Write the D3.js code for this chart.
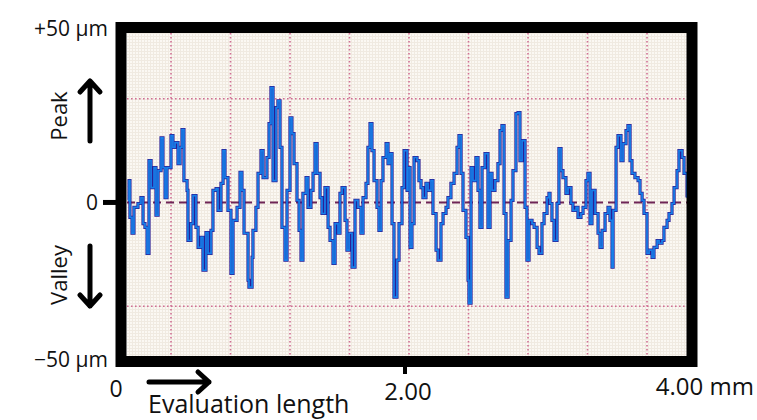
<!DOCTYPE html>
<html>
<head>
<meta charset="utf-8">
<script src="https://cdn.jsdelivr.net/npm/d3@7"></script>
<style>
  body { margin: 0; background: #fff; }
  svg { display: block; font-family: "Open Sans", sans-serif; }
</style>
</head>
<body>
<div id="chart"></div>
<script>
// profile: position along the surface (mm) and height (µm)
const positionsMm = [
  0.111, 0.118, 0.124, 0.138, 0.151, 0.178, 0.198, 0.212, 0.225, 0.239, 0.252, 0.266, 0.286, 0.299, 0.313, 0.333,
  0.346, 0.360, 0.373, 0.400, 0.413, 0.427, 0.447, 0.461, 0.474, 0.487, 0.508, 0.514, 0.534, 0.548, 0.568, 0.582,
  0.602, 0.615, 0.635, 0.649, 0.669, 0.682, 0.703, 0.716, 0.736, 0.750, 0.763, 0.783, 0.803, 0.817, 0.844, 0.864,
  0.877, 0.891, 0.918, 0.924, 0.945, 0.951, 0.971, 0.985, 1.005, 1.019, 1.045, 1.059,
  1.072, 1.086, 1.106, 1.119, 1.133, 1.146, 1.166, 1.180, 1.200, 1.213, 1.227, 1.247, 1.261, 1.274, 1.287, 1.308,
  1.321, 1.341, 1.355, 1.368, 1.382, 1.402, 1.415, 1.435, 1.456, 1.469, 1.489, 1.503, 1.523, 1.536, 1.550, 1.570,
  1.583, 1.597, 1.617, 1.637, 1.657, 1.677, 1.691, 1.711, 1.724, 1.738, 1.751, 1.765, 1.785, 1.798, 1.812, 1.825,
  1.846, 1.859, 1.872, 1.886, 1.899, 1.919, 1.933, 1.953, 1.967, 1.987,
  1.993, 2.007, 2.020, 2.034, 2.054, 2.067, 2.081, 2.094, 2.114, 2.128, 2.148, 2.161, 2.182, 2.195, 2.215, 2.229,
  2.249, 2.262, 2.282, 2.303, 2.323, 2.336, 2.350, 2.363, 2.383, 2.397, 2.403, 2.417, 2.430, 2.450, 2.464, 2.477,
  2.491, 2.511, 2.531, 2.545, 2.558, 2.578, 2.598, 2.612, 2.625, 2.639, 2.652, 2.666, 2.686, 2.699, 2.719, 2.733,
  2.746, 2.760, 2.780, 2.793, 2.807, 2.827, 2.841, 2.861, 2.874, 2.894, 2.908, 2.928,
  2.941, 2.948, 2.961, 2.975, 2.995, 3.008, 3.022, 3.035, 3.055, 3.069, 3.089, 3.102, 3.123, 3.136, 3.156, 3.170,
  3.190, 3.203, 3.217, 3.230, 3.251, 3.271, 3.284, 3.298, 3.318, 3.338, 3.351, 3.365, 3.372, 3.392, 3.405, 3.425,
  3.439, 3.459, 3.472, 3.486, 3.499, 3.519, 3.540, 3.553, 3.567, 3.580, 3.600, 3.614, 3.634, 3.647, 3.668, 3.681,
  3.701, 3.714, 3.735, 3.748, 3.768, 3.782, 3.802, 3.815, 3.836, 3.849, 3.869
];
const heightsUm = [
  0.6, 6.3, -4.3, -8.9, -1.4, -0.3, 1.4, -6.1, -7.2, -14.7, 12.1, 4.3, 10.1, -3.7, 9.2, 18.7,
  10.1, 1.4, 10.1, 19.3, 15.9, 17.3, 11.2, 15.9, 21.1, 6.3, 3.5, -11.0, -6.1, 2.0, -7.2, -13.0,
  -10.1, -19.6, -8.7, -14.7, -8.1, 3.5, 4.0, -2.3, 5.5, 15.0, 7.2, -2.3, -20.5, -5.2, -1.4, 8.7,
  3.5, -8.9, -22.5, -24.5, -15.9, -8.1, -1.4, 8.4, 15.0, 7.2, 13.0, 22.8,
  33.2, 6.3, 27.4, 29.4, 15.9, -7.2, -16.7, 3.5, 24.5, 19.9, 11.2, 0.6, -8.1, -16.7, 2.6, 7.2,
  -1.4, 3.5, 8.4, 17.0, 8.4, 1.4, -3.2, 4.3, -7.2, -11.0, -17.6, -6.1, -8.9, 2.6, 4.3, -5.2,
  -13.8, -8.9, -18.7, 0.6, -1.4, -8.9, 1.4, 5.5, 15.9, 22.8, 15.0, 6.3, -1.4, -8.1, 6.3, 13.0,
  17.0, 11.2, 14.1, -6.1, -27.4, -16.7, -6.1, 4.3, 15.0, 3.5,
  10.1, -13.0, -6.1, 13.0, 12.1, 6.3, 4.3, 1.4, 5.5, 3.5, 6.3, -3.2, -13.8, -16.7, -6.1, -3.2,
  -1.4, 1.4, 5.5, 8.4, 15.9, 19.3, 8.4, -2.3, -10.1, -22.5, -29.1, 10.1, 6.3, 13.0, 3.5, -7.2,
  10.1, 14.1, -7.2, 8.4, 3.5, 6.3, 11.2, 20.8, 22.2, -3.2, -27.4, -11.0, 0.6, 9.2, 25.7, 26.0,
  12.1, 17.9, -1.4, -16.7, -5.2, -6.1, -7.2, -13.0, -14.7, -6.1, -3.2, 1.4,
  2.6, -0.3, -5.2, -11.0, -0.3, 15.6, 9.2, 7.2, 2.6, 4.3, -0.3, -2.3, -1.4, -4.3, -3.2, -1.4,
  6.3, 8.4, -6.1, 3.5, -3.2, -8.9, -13.0, -8.1, -3.2, -1.4, -5.2, -18.7, -2.3, 15.9, 19.3, 12.1,
  17.0, 20.8, 22.2, 12.1, 8.4, 7.2, 6.3, 2.6, 0.6, -3.2, -14.7, -13.8, -15.9, -13.0, -11.0, -11.8,
  -11.0, -7.2, -5.2, -3.2, -0.3, 4.3, 9.2, 15.0, 13.0, 8.4, 1.4
];
const gridMm = [0.4, 0.8, 1.2, 1.6, 2.0, 2.4, 2.8, 3.2, 3.6];
const gridUm = [-30, 30];
const yLabels = ["+50 µm", "0", "\u221250 µm"];
const xLabels = ["0", "2.00", "4.00 mm"];

const width = 757, height = 420;
// inner drawing area of the instrument screen
const plot = {left: 127, right: 687, top: 33, bottom: 356};

const x = d3.scaleLinear().domain([0, 4]).range([111.5, 706.5]);
const y = d3.scaleLinear().domain([-44.4, 49]).range([plot.bottom, plot.top]);

const profile = positionsMm.map((p, i) => ({mm: p, um: heightsUm[i]}));

const svg = d3.select("#chart").append("svg")
  .attr("width", width)
  .attr("height", height);

const defs = svg.append("defs");
defs.append("clipPath").attr("id", "screen")
  .append("rect")
  .attr("x", plot.left).attr("y", plot.top)
  .attr("width", plot.right - plot.left).attr("height", plot.bottom - plot.top);

// faint pixel grid of the screen
const pat = defs.append("pattern").attr("id", "pixels")
  .attr("width", 3).attr("height", 3)
  .attr("patternUnits", "userSpaceOnUse");
pat.append("rect").attr("width", 3).attr("height", 3).attr("fill", "#fbf8f3");
pat.append("path").attr("d", "M0,0.5H3M0.5,0V3")
  .attr("stroke", "#f0eae1").attr("stroke-width", 1);

const screen = svg.append("g").attr("clip-path", "url(#screen)");

screen.append("rect")
  .attr("x", plot.left).attr("y", plot.top)
  .attr("width", plot.right - plot.left).attr("height", plot.bottom - plot.top)
  .attr("fill", "url(#pixels)");

screen.selectAll(".vgrid")
  .data(gridMm)
  .enter().append("line")
  .attr("class", "vgrid")
  .attr("x1", d => x(d)).attr("x2", d => x(d))
  .attr("y1", plot.top).attr("y2", plot.bottom)
  .attr("stroke", "#cf6f93")
  .attr("stroke-width", 1.6)
  .attr("stroke-dasharray", "1.6,2.4");

screen.selectAll(".hgrid")
  .data(gridUm)
  .enter().append("line")
  .attr("class", "hgrid")
  .attr("x1", plot.left).attr("x2", plot.right)
  .attr("y1", d => y(d)).attr("y2", d => y(d))
  .attr("stroke", "#cf6f93")
  .attr("stroke-width", 1.6)
  .attr("stroke-dasharray", "1.6,2.4");

// mean line
screen.append("line")
  .attr("x1", plot.left).attr("x2", plot.right)
  .attr("y1", y(0)).attr("y2", y(0))
  .attr("stroke", "#6e2456")
  .attr("stroke-width", 2)
  .attr("stroke-dasharray", "8,5");

const line = d3.line()
  .x(d => x(d.mm))
  .y(d => y(d.um))
  .curve(d3.curveStepAfter);

screen.append("path")
  .datum(profile)
  .attr("d", line)
  .attr("fill", "none")
  .attr("stroke", "#2a1f96")
  .attr("stroke-width", 3.2);

screen.append("path")
  .datum(profile)
  .attr("d", line)
  .attr("fill", "none")
  .attr("stroke", "#1780ea")
  .attr("stroke-width", 1.7);

// thick black frame
svg.append("rect")
  .attr("x", 121).attr("y", 27.5)
  .attr("width", 571).attr("height", 334)
  .attr("fill", "none")
  .attr("stroke", "#000")
  .attr("stroke-width", 11);

// zero tick on the left, 2.00 tick below
svg.append("line")
  .attr("x1", 103).attr("x2", 118)
  .attr("y1", y(0)).attr("y2", y(0))
  .attr("stroke", "#000").attr("stroke-width", 5);
svg.append("line")
  .attr("x1", x(2) - 4).attr("x2", x(2) - 4)
  .attr("y1", 366).attr("y2", 374)
  .attr("stroke", "#000").attr("stroke-width", 4);

const label = (txt, px, py, anchor, size) => svg.append("text")
  .attr("x", px).attr("y", py)
  .attr("text-anchor", anchor)
  .attr("font-size", size)
  .attr("fill", "#111")
  .text(txt);

label(yLabels[0], 108, 36, "end", 21);
label(yLabels[1], 92, 210, "middle", 21);
label(yLabels[2], 108, 367, "end", 21);

label(xLabels[0], 116, 397, "middle", 23);
label(xLabels[1], x(2) - 1, 400, "middle", 24);
label(xLabels[2], 754, 395, "end", 24);

label("Evaluation length", 148, 413, "start", 25);

svg.append("text")
  .attr("transform", "translate(67,116) rotate(-90)")
  .attr("text-anchor", "middle")
  .attr("font-size", 22)
  .attr("fill", "#111")
  .text("Peak");
svg.append("text")
  .attr("transform", "translate(67,275) rotate(-90)")
  .attr("text-anchor", "middle")
  .attr("font-size", 22)
  .attr("fill", "#111")
  .text("Valley");

// arrows
const arrow = (d) => svg.append("path")
  .attr("d", d)
  .attr("fill", "none")
  .attr("stroke", "#000")
  .attr("stroke-width", 5)
  .attr("stroke-linecap", "round")
  .attr("stroke-linejoin", "round");

arrow("M90,141V81M80,92L90,81L100,92");
arrow("M90,246V306M80,295L90,306L100,295");
arrow("M149,382H209M198,372L209,382L198,392");
</script>
</body>
</html>
